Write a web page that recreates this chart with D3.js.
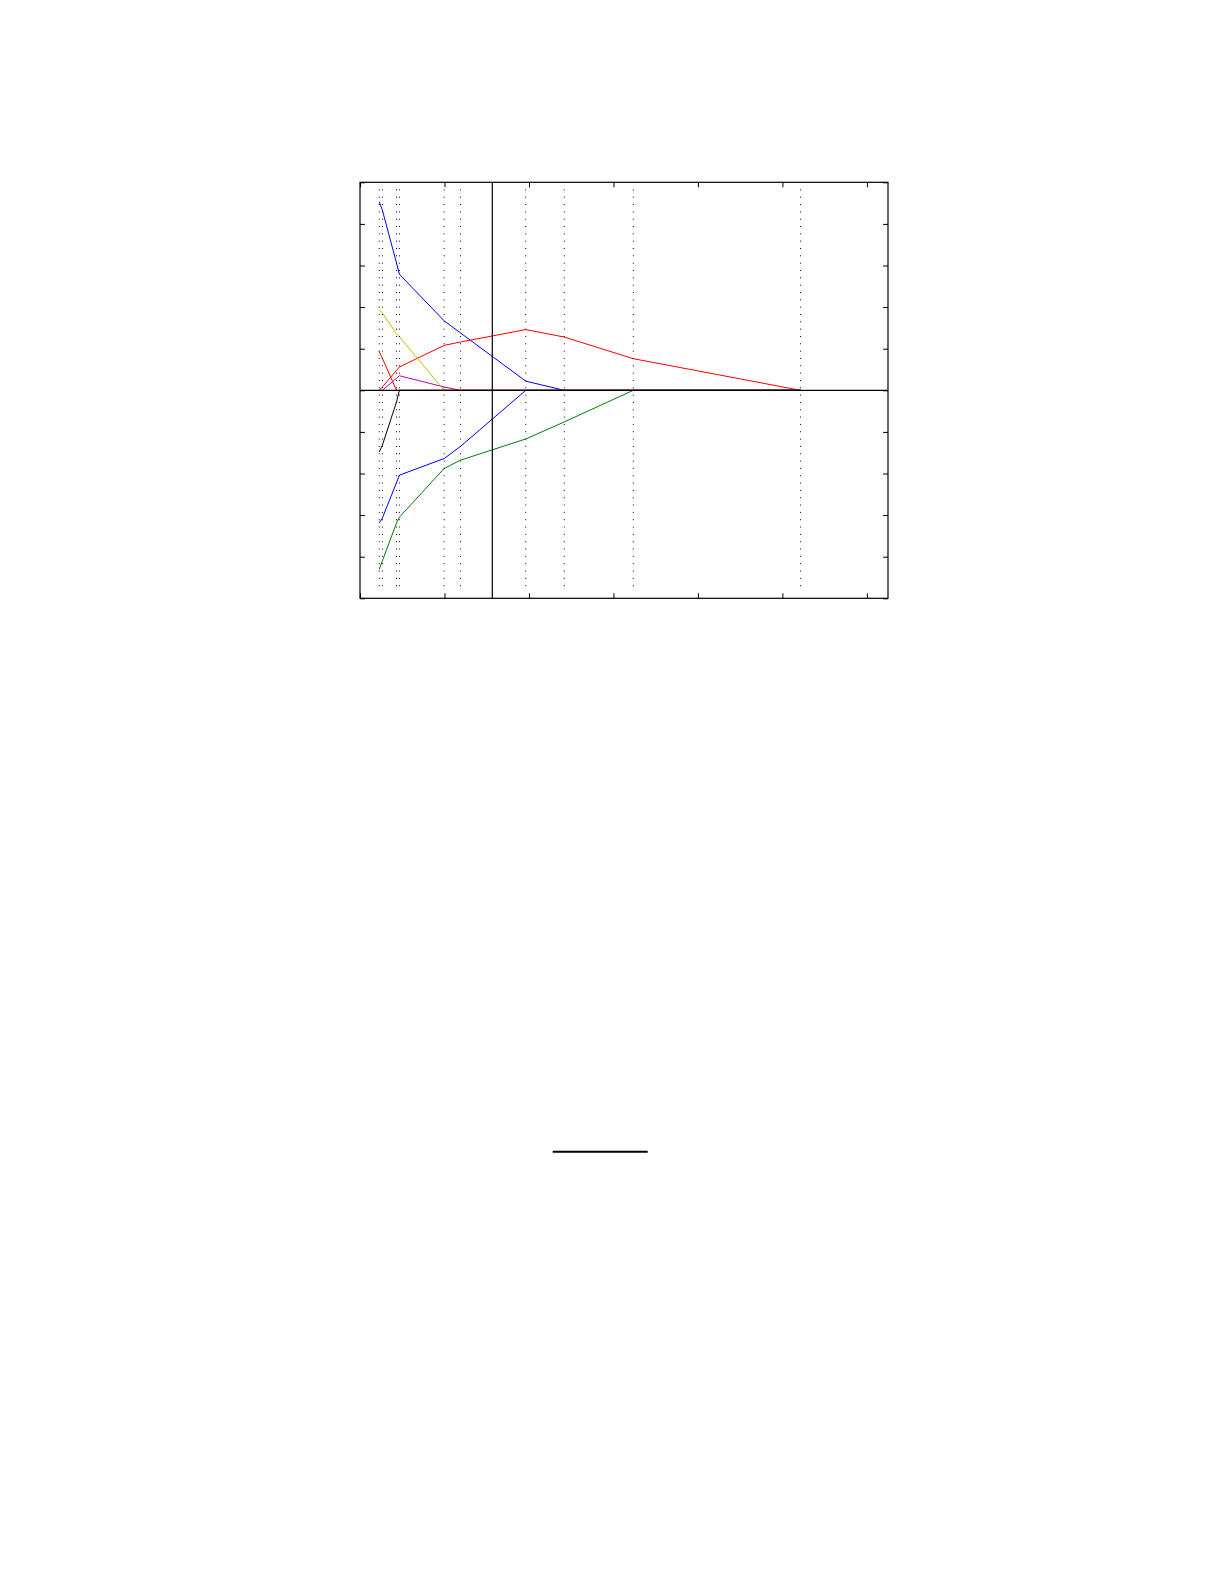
<!doctype html>
<html>
<head>
  <script src="https://cdnjs.cloudflare.com/ajax/libs/d3/7.8.5/d3.min.js" type="text/JavaScript"></script>
  <style>
    body { margin: 0; background: #fff; }
  </style>
</head>
<body>
<svg height="1585" width="1225"></svg>
<script type="text/javascript">
// knot positions along x (where the paths bend)
var knots = [0.228, 0.265, 0.432, 0.466, 0.996, 1.189, 1.962, 2.418, 3.235, 5.215];
var chosenX = 1.566;

// coefficient values at each knot
var blueTop    = [4.53, 4.33, 3.06, 2.79, 1.67, 1.38, 0.22, 0, 0, 0];
var green      = [-4.30, -4.10, -3.19, -3.05, -1.88, -1.68, -1.17, -0.76, 0, 0];
var redBig     = [0, 0.08, 0.48, 0.56, 1.08, 1.16, 1.46, 1.28, 0.76, 0];
var magenta    = [0, 0, 0.29, 0.35, 0.08, 0, 0, 0, 0, 0];
var yellow     = [1.94, 1.86, 1.36, 1.29, 0, 0, 0, 0, 0, 0];
var black      = [-1.48, -1.32, -0.28, 0, 0, 0, 0, 0, 0, 0];
var blueLow    = [-3.19, -3.07, -2.22, -2.04, -1.64, -1.35, 0, 0, 0, 0];
var redSmall   = [0.93, 0.77, 0, 0, 0, 0, 0, 0, 0, 0];

var series = [
  {values: blueTop, color: "#0000ff"},
  {values: green, color: "#008000"},
  {values: redBig, color: "#ff0000"},
  {values: magenta, color: "#bf00bf"},
  {values: yellow, color: "#bfbf00"},
  {values: black, color: "#000000"},
  {values: blueLow, color: "#0000ff"},
  {values: redSmall, color: "#ff0000"}
];

var xTicks = [0, 1, 2, 3, 4, 5, 6];
var yTicks = [-5, -4, -3, -2, -1, 0, 1, 2, 3, 4, 5];

var x = d3.scaleLinear().domain([0, 6.25]).range([360, 888]);
var y = d3.scaleLinear().domain([-5, 5]).range([598.3, 182.3]);

var svg = d3.select("svg");

var line = d3.line()
  .x((d, i) => x(knots[i]))
  .y(d => y(d));

svg.append("g").selectAll("path").data(series)
  .enter()
  .append("path")
  .attr("d", d => line(d.values))
  .style("fill", "none")
  .style("stroke", d => d.color)
  .style("stroke-width", 1);

// dotted verticals at the knots
svg.append("g").selectAll("line").data(knots)
  .enter()
  .append("line")
  .attr("x1", d => x(d))
  .attr("x2", d => x(d))
  .attr("y1", y(4.83))
  .attr("y2", y(-4.85))
  .style("stroke", "#000")
  .style("stroke-width", 1)
  .style("stroke-dasharray", "1,6.33");

// zero line and chosen value
svg.append("line")
  .attr("x1", x(0)).attr("x2", x(6.25))
  .attr("y1", y(0)).attr("y2", y(0))
  .style("stroke", "#000").style("stroke-width", 1.2);
svg.append("line")
  .attr("x1", x(chosenX)).attr("x2", x(chosenX))
  .attr("y1", y(5)).attr("y2", y(-5))
  .style("stroke", "#000").style("stroke-width", 1.2);

// axes: inward ticks, no labels
var tl = 5;
svg.append("g").attr("transform", "translate(0," + y(-5) + ")")
  .call(d3.axisBottom(x).tickValues(xTicks).tickSize(-tl).tickFormat(""));
svg.append("g").attr("transform", "translate(0," + y(5) + ")")
  .call(d3.axisTop(x).tickValues(xTicks).tickSize(-tl).tickFormat(""));
svg.append("g").attr("transform", "translate(" + x(0) + ",0)")
  .call(d3.axisLeft(y).tickValues(yTicks).tickSize(-tl).tickFormat(""));
svg.append("g").attr("transform", "translate(" + x(6.25) + ",0)")
  .call(d3.axisRight(y).tickValues(yTicks).tickSize(-tl).tickFormat(""));
svg.selectAll(".domain").remove();
svg.selectAll(".tick line").style("stroke", "#000").style("stroke-width", 1);

svg.append("rect")
  .attr("x", x(0)).attr("y", y(5))
  .attr("width", x(6.25) - x(0)).attr("height", y(-5) - y(5))
  .style("fill", "none").style("stroke", "#000").style("stroke-width", 1.2);

// short rule further down the page
svg.append("line")
  .attr("x1", 552.7).attr("x2", 647.7)
  .attr("y1", 1151.7).attr("y2", 1151.7)
  .style("stroke", "#000").style("stroke-width", 2);
</script>
</body>
</html>
